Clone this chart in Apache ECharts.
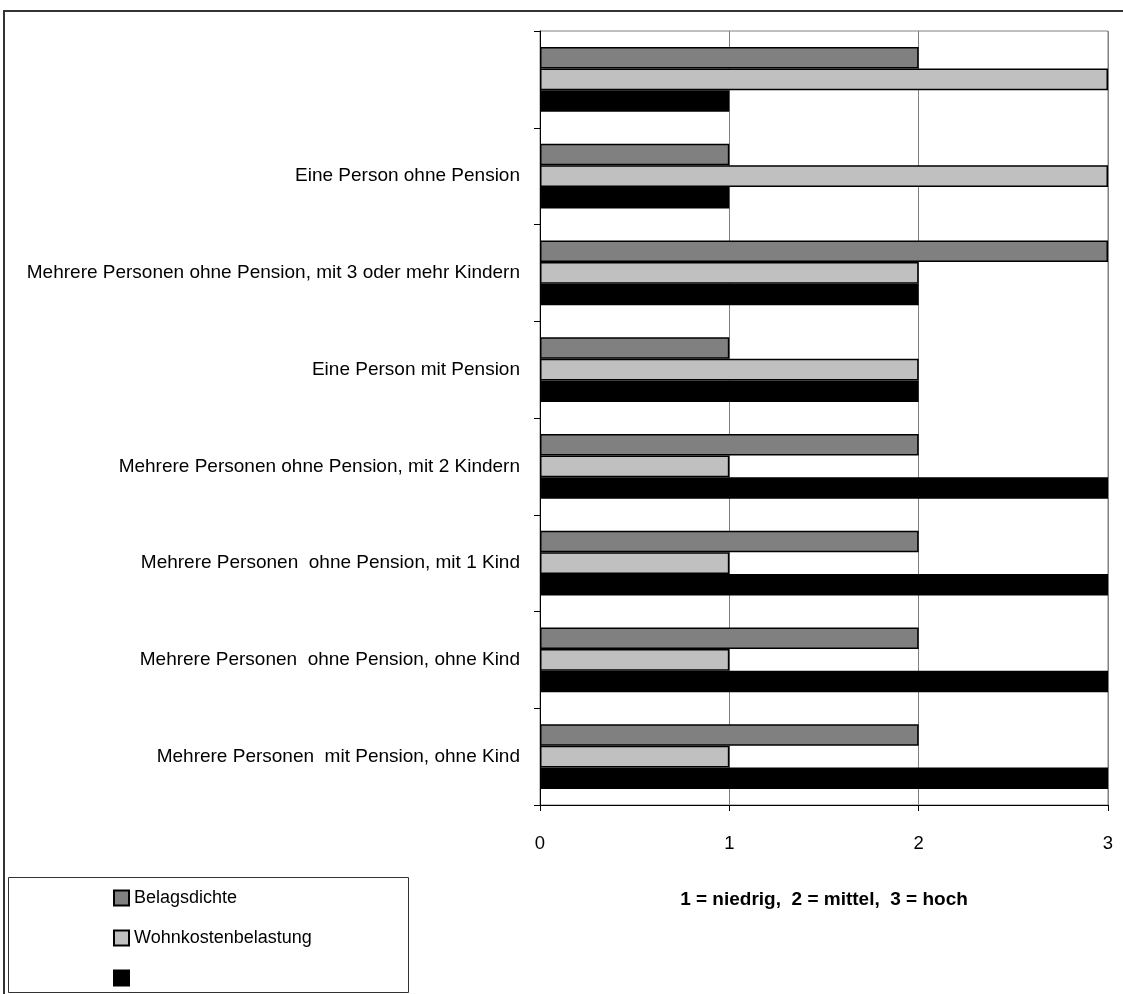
<!DOCTYPE html>
<html>
<head>
<meta charset="utf-8">
<script src="https://cdn.jsdelivr.net/npm/echarts@6/dist/echarts.min.js"></script>
<style>
html,body{margin:0;padding:0;background:#fff;}
#chart{width:1123px;height:994px;}
</style>
</head>
<body>
<div id="chart"></div>
<script>
// categories, top to bottom
const categories = [
  "",
  "Eine Person ohne Pension",
  "Mehrere Personen ohne Pension, mit 3 oder mehr Kindern",
  "Eine Person mit Pension",
  "Mehrere Personen ohne Pension, mit 2 Kindern",
  "Mehrere Personen  ohne Pension, mit 1 Kind",
  "Mehrere Personen  ohne Pension, ohne Kind",
  "Mehrere Personen  mit Pension, ohne Kind"
];
const seriesNames = ["Belagsdichte", "Wohnkostenbelastung", " "];
const belagsdichte = [2, 1, 3, 1, 2, 2, 2, 2];
const wohnkosten = [3, 3, 2, 2, 1, 1, 1, 1];
const dritte = [1, 1, 2, 2, 3, 3, 3, 3];
const xTicks = [0, 1, 2, 3];
const axisTitle = "1 = niedrig,  2 = mittel,  3 = hoch";

const FONT = "'Liberation Sans Narrow', 'Arial Narrow', 'Liberation Sans', Arial, sans-serif";
const colors = ["#808080", "#c0c0c0", "#000000"];
const values = [belagsdichte, wohnkosten, dritte];

const chart = echarts.init(document.getElementById('chart'), null, {renderer: 'canvas'});
chart.setOption({
  animation: false,
  backgroundColor: '#ffffff',
  textStyle: {fontFamily: FONT, color: '#000'},
  grid: {left: 540, top: 31, right: 15, bottom: 189, show: true, borderColor: '#808080', borderWidth: 1},
  xAxis: {
    type: 'value', min: xTicks[0], max: xTicks[xTicks.length - 1], interval: 1,
    axisLine: {show: true, lineStyle: {color: '#000', width: 1}},
    axisTick: {show: true, length: 6, lineStyle: {color: '#000'}},
    splitLine: {show: true, lineStyle: {color: '#808080', width: 1}},
    axisLabel: {fontFamily: FONT, fontSize: 18.5, color: '#000', margin: 29},
    name: axisTitle, nameLocation: 'middle', nameGap: 85,
    nameTextStyle: {fontFamily: FONT, fontSize: 19, fontWeight: 'bold', color: '#000'}
  },
  yAxis: {
    type: 'category', data: categories, inverse: true,
    axisLine: {show: true, lineStyle: {color: '#000', width: 1}},
    axisTick: {show: true, length: 6, lineStyle: {color: '#000'}},
    axisLabel: {fontFamily: FONT, fontSize: 19, color: '#000', margin: 20}
  },
  legend: {
    orient: 'vertical', left: 108, top: 884,
    itemWidth: 15, itemHeight: 15, itemGap: 22,
    data: seriesNames,
    textStyle: {fontFamily: FONT, fontSize: 18, color: '#000'},
    icon: 'rect'
  },
  graphic: [
    {type: 'line', shape: {x1: 3, y1: 11, x2: 1123, y2: 11}, style: {stroke: '#333', lineWidth: 2}},
    {type: 'line', shape: {x1: 4, y1: 11, x2: 4, y2: 994}, style: {stroke: '#333', lineWidth: 2}},
    {type: 'rect', shape: {x: 8.5, y: 877.5, width: 400, height: 115}, style: {fill: 'rgba(0,0,0,0)', stroke: '#333', lineWidth: 1}, z: 10}
  ],
  series: seriesNames.map((n, i) => ({
    name: n, type: 'bar', data: values[i],
    barGap: '0%', barCategoryGap: '33%',
    itemStyle: {color: colors[i], borderColor: '#000', borderWidth: 1.5}
  }))
});
</script>
</body>
</html>
